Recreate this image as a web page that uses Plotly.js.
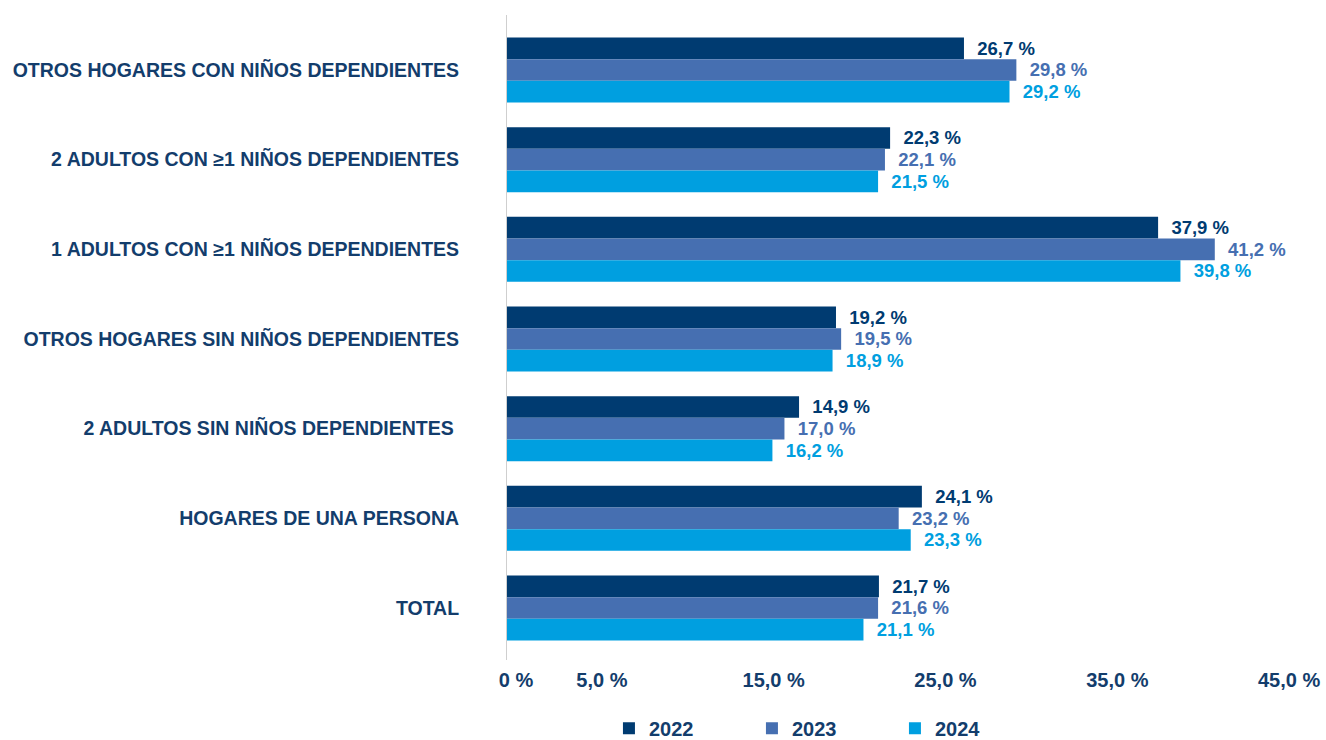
<!DOCTYPE html>
<html>
<head>
<meta charset="utf-8">
<script src="https://cdn.plot.ly/plotly-3.0.1.min.js"></script>
<style>html,body{margin:0;padding:0;background:#fff;}#chart{width:1326px;height:740px;}</style>
</head>
<body>
<div id="chart"></div>
<script>
const categories = [
  "OTROS HOGARES CON NIÑOS DEPENDIENTES",
  "2 ADULTOS CON ≥1 NIÑOS DEPENDIENTES",
  "1 ADULTOS CON ≥1 NIÑOS DEPENDIENTES",
  "OTROS HOGARES SIN NIÑOS DEPENDIENTES",
  "2 ADULTOS SIN NIÑOS DEPENDIENTES\u00a0",
  "HOGARES DE UNA PERSONA",
  "TOTAL"
];
const years = ["2022", "2023", "2024"];
// bar lengths as drawn in the picture
const bars2022 = [26.6, 22.3, 37.9, 19.15, 17.0, 24.15, 21.65];
const bars2023 = [29.65, 22.0, 41.2, 19.45, 16.15, 22.8, 21.6];
const bars2024 = [29.25, 21.6, 39.2, 18.95, 15.45, 23.5, 20.75];
// data labels as printed in the picture
const labels2022 = [26.7, 22.3, 37.9, 19.2, 14.9, 24.1, 21.7];
const labels2023 = [29.8, 22.1, 41.2, 19.5, 17.0, 23.2, 21.6];
const labels2024 = [29.2, 21.5, 39.8, 18.9, 16.2, 23.3, 21.1];
const tickValues = [0, 5, 15, 25, 35, 45];
const tickLabels = ["0 %", "5,0 %", "15,0 %", "25,0 %", "35,0 %", "45,0 %"];

const colors = ["#003b71", "#466fb1", "#009fe0"];
const navy = "#133d6c";
const fmt = v => "\u00a0\u00a0" + v.toFixed(1).replace(".", ",") + " %";
const barSeries = [bars2022, bars2023, bars2024];
const labelSeries = [labels2022, labels2023, labels2024];

const traces = barSeries.map((vals, i) => ({
  type: "bar",
  orientation: "h",
  name: years[i],
  x: vals,
  y: categories,
  marker: {color: colors[i]},
  text: labelSeries[i].map(fmt),
  textposition: "outside",
  cliponaxis: false,
  textfont: {family: "Liberation Sans, Arial, sans-serif", size: 18.5, color: colors[i], weight: "bold"},
  hoverinfo: "text+name"
}));

const layout = {
  width: 1326, height: 740,
  margin: {l: 507, r: 15, t: 15, b: 80},
  paper_bgcolor: "#fff", plot_bgcolor: "#fff",
  barmode: "group",
  bargap: 0.275,
  bargroupgap: 0,
  showlegend: true,
  legend: {
    orientation: "h",
    xref: "container", yref: "container",
    x: 0.621, y: 0.016, xanchor: "center", yanchor: "middle",
    entrywidth: 98, entrywidthmode: "pixels",
    font: {family: "Liberation Sans, Arial, sans-serif", size: 20, color: navy, weight: "bold"},
    traceorder: "normal"
  },
  xaxis: {
    range: [0, 46.8],
    tickvals: tickValues,
    ticktext: tickLabels,
    showgrid: false, zeroline: false, showline: false,
    ticks: "",
    ticklabelshift: 9,
    ticklabelstandoff: 6,
    tickfont: {family: "Liberation Sans, Arial, sans-serif", size: 20, color: navy, weight: "bold"},
    fixedrange: true
  },
  yaxis: {
    type: "category",
    range: [6.58, -0.613],
    showgrid: false, zeroline: false,
    showline: true, linecolor: "#cfcfcf", linewidth: 1,
    ticks: "",
    ticklabelstandoff: 43,
    tickfont: {family: "Liberation Sans, Arial, sans-serif", size: 19.5, color: navy, weight: "bold"},
    fixedrange: true
  }
};

Plotly.newPlot("chart", traces, layout, {displayModeBar: false, responsive: false});
</script>
</body>
</html>
